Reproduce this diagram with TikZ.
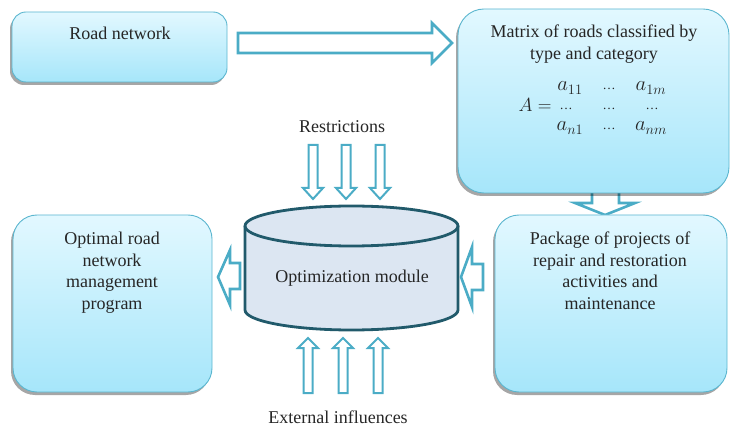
\documentclass[tikz,border=0pt]{standalone}
\usepackage{fontspec}
\setmainfont{Liberation Serif}
\usetikzlibrary{shadows}
\definecolor{accent}{HTML}{4BACC6}
\definecolor{boxtop}{HTML}{E2F8FF}
\definecolor{boxbot}{HTML}{A6E6FA}
\definecolor{boxline}{HTML}{5BB6CF}
\definecolor{cylfill}{HTML}{DCE6F2}
\definecolor{cylline}{HTML}{215A6B}
\begin{document}
\begin{tikzpicture}[x=1pt,y=-1pt,
  box/.style={rectangle, draw=boxline, line width=0.9pt, top color=boxtop, bottom color=boxbot,
    drop shadow={shadow xshift=-2pt, shadow yshift=-3pt, fill=black, opacity=0.35}, inner sep=0pt},
  txt/.style={align=center, inner sep=0pt, font=\fontsize{18}{21.5}\selectfont, text=black!85},
  blk/.style={draw=accent, line width=2.6pt, fill=white, line join=miter},
  thin/.style={draw=accent, line width=2pt, fill=white, line join=miter},
  mth/.style={inner sep=0pt, anchor=base, font=\fontsize{17.28}{20}\selectfont, text=black!85},
  dts/.style={inner sep=0pt, anchor=base, font=\fontsize{13}{15}\selectfont, text=black!85}]
\useasboundingbox (0,0) rectangle (730,427);

% down arrow (behind matrix box)
\draw[blk] (592,188) -- (619,188) -- (619,203) -- (635,203) -- (605,215) -- (575,203) -- (592,203) -- cycle;

% boxes
\node[box, rounded corners=14pt, minimum width=215pt, minimum height=70pt] (road) at (119.5,47) {};
\node[box, rounded corners=26pt, minimum width=271pt, minimum height=184pt] (matrix) at (593.5,101) {};
\node[box, rounded corners=24pt, minimum width=199pt, minimum height=177pt] (optimal) at (112.5,303.5) {};
\node[box, rounded corners=24pt, minimum width=232pt, minimum height=177pt] (package) at (611,303.5) {};

% box texts
\node[txt] (roadtxt) at (120,33) {Road network};
\node[txt, anchor=north] (matrixtxt) at (594,25) {Matrix of roads classified by\\type and category};
\node[txt, anchor=north] (optimaltxt) at (112,232) {Optimal road\\network\\management\\program};
\node[txt, anchor=north] (packagetxt) at (610,232) {Package of projects of\\repair and restoration\\activities and\\maintenance};

% matrix
\node[mth] (Aeq) at (535,112) {\scalebox{1.1}{$A=$}};
\node[mth] (m11) at (570,91) {\scalebox{1.2}{$a_{11}$}};
\node[dts] (m12) at (609,90) {…};
\node[mth] (m13) at (651,91) {\scalebox{1.2}{$a_{1m}$}};
\node[dts] (m21) at (566,110) {…};
\node[dts] (m22) at (609,110) {…};
\node[dts] (m23) at (652,110) {…};
\node[mth] (m31) at (570,131) {\scalebox{1.2}{$a_{n1}$}};
\node[dts] (m32) at (609,130) {…};
\node[mth] (m33) at (651,131) {\scalebox{1.2}{$a_{nm}$}};

% big right arrow
\draw[blk] (238,33) -- (432,33) -- (432,23) -- (452,43) -- (432,63) -- (432,53) -- (238,53) -- cycle;

% cylinder
\fill[cylfill] (245,226) -- (245,310) arc[start angle=180, end angle=0, x radius=106.5, y radius=20] -- (458,226) arc[start angle=0, end angle=-180, x radius=106.5, y radius=20] -- cycle;
\draw[cylline, line width=2.8pt] (245,226) -- (245,310) arc[start angle=180, end angle=0, x radius=106.5, y radius=20] -- (458,226);
\draw[cylline, line width=2.8pt] (351.5,226) ellipse[x radius=106.5, y radius=20];
\node[txt] (opt) at (352,278) {Optimization module};

% left / right arrows
\draw[blk] (240,263) -- (230,263) -- (230,250) -- (218,277) -- (230,305) -- (230,289) -- (240,289) -- cycle;
\draw[blk] (483,264) -- (472,264) -- (472,247) -- (461,277) -- (472,307) -- (472,290) -- (483,290) -- cycle;

% restrictions
\node[txt] (restr) at (342,127) {Restrictions};
\foreach \cx in {313,346,380}{
  \draw[thin] (\cx-4.5,145) -- (\cx+4.5,145) -- (\cx+4.5,188) -- (\cx+10,188) -- (\cx,199) -- (\cx-10,188) -- (\cx-4.5,188) -- cycle;
}

% external influences
\node[txt] (ext) at (338,417) {External influences};
\foreach \cx in {308,343,378}{
  \draw[thin] (\cx-4.5,393) -- (\cx+4.5,393) -- (\cx+4.5,348) -- (\cx+10,348) -- (\cx,338) -- (\cx-10,348) -- (\cx-4.5,348) -- cycle;
}
\end{tikzpicture}
\end{document}
